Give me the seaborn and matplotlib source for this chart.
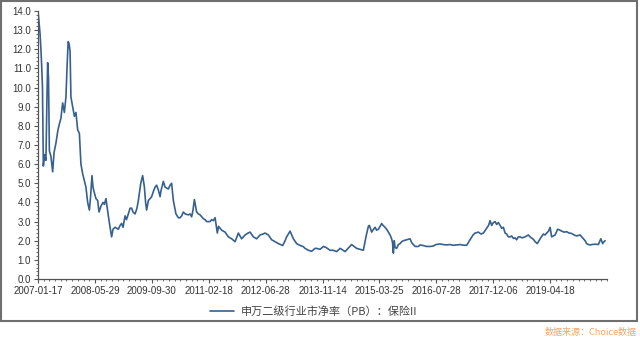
import matplotlib
matplotlib.use("Agg")
import matplotlib.pyplot as plt
import seaborn as sns
import pandas as pd
from matplotlib.patches import Rectangle
from matplotlib.ticker import MultipleLocator, FixedLocator

sns.set_style("white")
plt.rcParams['font.family'] = ['Liberation Sans', 'Noto Sans CJK SC', 'DejaVu Sans']

# trading-day index (from 2007-01-17)
day_index = [
    0, 12, 17, 21, 26, 31, 38, 46, 52, 56, 61, 66, 75, 85, 93, 104, 116, 124, 133, 143,
    153, 162, 169, 175, 180, 186, 191, 201, 211, 220, 230, 240, 249, 259, 270, 278, 288, 298, 305, 313,
    319, 327, 336, 346, 354, 365, 377, 385, 394, 408, 418, 427, 435, 447, 466, 476, 485, 493, 505, 513,
    524, 534, 543, 551, 563, 574, 582, 596, 607, 617, 624, 630, 640, 650, 659, 670, 679, 688, 698, 708,
    713, 727, 737, 746, 756, 766, 775, 785, 800, 814, 824, 833, 843, 853, 872, 882, 891, 899, 907, 920,
    930, 940, 959, 969, 978, 988, 998, 1007, 1017, 1027, 1032, 1040, 1047, 1065, 1085, 1104, 1123, 1143, 1162, 1181,
    1201, 1218, 1230, 1249, 1268, 1288, 1305, 1317, 1336, 1355, 1375, 1394, 1419, 1433, 1442, 1462, 1481, 1500, 1520, 1537,
    1549, 1568, 1587, 1607, 1616, 1636, 1655, 1670, 1694, 1713, 1732, 1752, 1761, 1781, 1798, 1819, 1833, 1848, 1868, 1887,
    1902, 1916, 1922, 1935, 1946, 1955, 1964, 1974, 1984, 1993, 2001, 2013, 2022, 2032, 2042, 2051, 2056, 2061, 2066, 2071,
    2080, 2090, 2100, 2109, 2119, 2138, 2158, 2167, 2177, 2187, 2206, 2216, 2233, 2254, 2274, 2291, 2308, 2332, 2349, 2370,
    2390, 2407, 2428, 2448, 2465, 2486, 2506, 2523, 2535, 2554, 2569, 2583, 2602, 2613, 2622, 2631, 2641, 2651, 2660, 2670,
    2680, 2689, 2699, 2709, 2718, 2728, 2738, 2747, 2757, 2767, 2776, 2786, 2796, 2807, 2825, 2844, 2854, 2873, 2883, 2896,
    2912, 2931, 2941, 2950, 2961, 2970, 2979, 2989, 2999, 3014, 3028, 3037, 3051, 3066, 3080, 3095, 3109, 3124, 3144, 3163,
    3173, 3182, 3192, 3202, 3213, 3231, 3250, 3264, 3275, 3283, 3289,
]

pb_values = [
    14.0, 12.8, 12.0, 11.2, 10.0, 5.9, 6.5, 6.2, 9.5, 11.3, 10.5, 6.7, 6.4, 5.6, 6.6, 7.1, 7.8, 8.1, 8.4, 9.2,
    8.7, 9.5, 11.2, 12.4, 12.3, 11.9, 9.5, 9.0, 8.5, 8.7, 7.8, 7.6, 6.0, 5.5, 5.1, 4.8, 4.0, 3.6, 4.3, 5.4,
    4.8, 4.5, 4.2, 4.1, 3.5, 3.8, 4.0, 3.9, 4.2, 3.3, 2.7, 2.2, 2.6, 2.7, 2.6, 2.8, 2.9, 2.7, 3.3, 3.1,
    3.4, 3.7, 3.7, 3.5, 3.4, 3.7, 4.1, 5.0, 5.4, 4.8, 4.0, 3.6, 4.1, 4.2, 4.3, 4.6, 4.8, 4.9, 4.65, 4.3,
    4.6, 5.1, 4.8, 4.75, 4.7, 4.9, 5.0, 4.1, 3.4, 3.2, 3.2, 3.3, 3.5, 3.4, 3.35, 3.4, 3.25, 3.6, 4.15, 3.5,
    3.4, 3.35, 3.15, 3.1, 3.0, 3.0, 3.0, 3.1, 3.05, 3.2, 2.9, 2.4, 2.75, 2.55, 2.45, 2.2, 2.1, 1.95, 2.4, 2.1,
    2.3, 2.4, 2.45, 2.2, 2.1, 2.3, 2.35, 2.4, 2.3, 2.05, 1.95, 1.85, 1.75, 2.0, 2.2, 2.5, 2.1, 1.85, 1.75, 1.7,
    1.6, 1.5, 1.45, 1.6, 1.6, 1.55, 1.7, 1.65, 1.5, 1.5, 1.43, 1.6, 1.55, 1.43, 1.6, 1.8, 1.7, 1.6, 1.55, 1.5,
    2.2, 2.75, 2.8, 2.45, 2.6, 2.7, 2.55, 2.6, 2.75, 2.9, 2.8, 2.7, 2.6, 2.45, 2.3, 2.1, 1.9, 1.35, 2.0, 1.65,
    1.6, 1.8, 1.85, 1.95, 2.0, 2.05, 2.1, 1.9, 1.8, 1.7, 1.7, 1.78, 1.75, 1.7, 1.7, 1.72, 1.8, 1.83, 1.8, 1.78,
    1.8, 1.76, 1.78, 1.8, 1.77, 1.76, 2.05, 2.3, 2.4, 2.45, 2.35, 2.4, 2.65, 2.8, 3.05, 2.8, 2.95, 3.0, 2.85, 2.95,
    2.8, 2.65, 2.7, 2.4, 2.35, 2.2, 2.2, 2.25, 2.12, 2.15, 2.05, 2.2, 2.2, 2.15, 2.2, 2.3, 2.2, 2.07, 1.95, 1.85,
    2.1, 2.35, 2.3, 2.4, 2.5, 2.7, 2.2, 2.25, 2.3, 2.6, 2.55, 2.5, 2.45, 2.47, 2.4, 2.38, 2.3, 2.25, 2.3, 2.1,
    2.0, 1.85, 1.8, 1.78, 1.8, 1.82, 1.8, 2.1, 1.85, 1.95, 2.0,
]

tick_positions = [0, 330, 660, 990, 1320, 1650, 1980, 2310, 2640, 2970]
tick_labels = ["2007-01-17", "2008-05-29", "2009-09-30", "2011-02-18", "2012-06-28",
               "2013-11-14", "2015-03-25", "2016-07-28", "2017-12-06", "2019-04-18"]
y_ticks = [0, 1, 2, 3, 4, 5, 6, 7, 8, 9, 10, 11, 12, 13, 14]
series_name = "申万二级行业市净率（PB）：保险II"
source_text = "数据来源：Choice数据"

df = pd.DataFrame({"day": day_index, "pb": pb_values})

fig = plt.figure(figsize=(6.4, 3.37), dpi=100)
ax = fig.add_axes([38/640, 1-279/337, (607-38)/640, (279-11)/337])

sns.lineplot(data=df, x="day", y="pb", ax=ax, color="#36608f", linewidth=1.2,
             label=series_name, legend=False)

ax.set_xlim(0, 3300)
ax.set_ylim(0, 14)
ax.set_xlabel("")
ax.set_ylabel("")
ax.xaxis.set_major_locator(FixedLocator(tick_positions))
ax.set_xticklabels(tick_labels)
ax.xaxis.set_minor_locator(MultipleLocator(33))
ax.yaxis.set_major_locator(FixedLocator(y_ticks))
ax.set_yticklabels([f"{v:.1f}" for v in y_ticks])
ax.yaxis.set_minor_locator(MultipleLocator(0.2))

for s in ["top", "right"]:
    ax.spines[s].set_visible(False)
for s in ["left", "bottom"]:
    ax.spines[s].set_color("#555555")
    ax.spines[s].set_linewidth(0.9)

ax.tick_params(axis="both", which="major", direction="out", length=3, width=0.8,
               color="#555555", labelsize=7, labelcolor="#333333", pad=2)
ax.tick_params(axis="both", which="minor", direction="out", length=1.5, width=0.6,
               color="#555555")
ax.tick_params(axis="both", which="both", left=True, bottom=True)

leg = fig.legend(loc="center", bbox_to_anchor=(0.49, 1-311/337), frameon=False,
                 prop={"family": ["Noto Sans CJK SC", "DejaVu Sans"], "size": 8},
                 handlelength=2.2, handletextpad=0.6)
for t in leg.get_texts():
    t.set_color("#444444")

# outer frame
fig.patches.append(Rectangle((1/640, 1-321/337), 636/640, 320/337, transform=fig.transFigure,
                             fill=False, edgecolor="#6f6f6f", linewidth=1.5))

fig.text(637/640, 1-332/337, source_text, ha="right", va="center", fontsize=6.5,
         color="#f5a46a", family=["Noto Sans CJK SC", "DejaVu Sans"])

fig.savefig("out.png", dpi=100)
